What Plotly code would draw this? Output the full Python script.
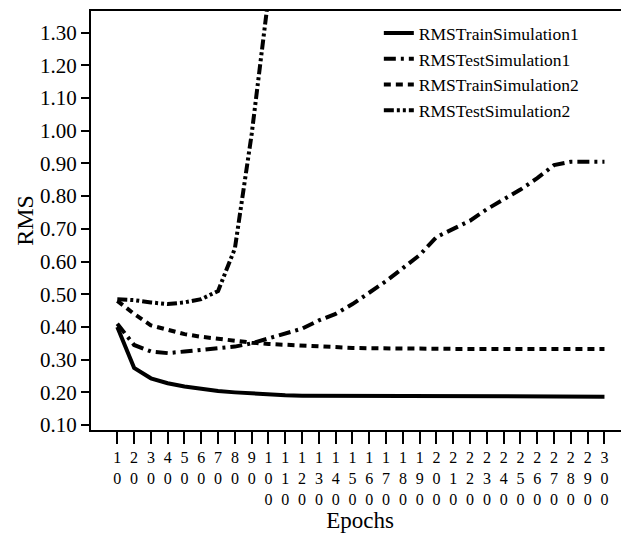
import plotly.graph_objects as go

epochs = list(range(10, 310, 10))
tick_text = ["<br>".join(str(e)) for e in epochs]

rms_train_sim1 = [0.400, 0.275, 0.243, 0.228, 0.218, 0.210, 0.204, 0.200, 0.196, 0.193,
                  0.191, 0.190, 0.190, 0.189, 0.188, 0.188, 0.188, 0.188, 0.188, 0.188,
                  0.188, 0.187, 0.187, 0.187, 0.187, 0.187, 0.187, 0.187, 0.187, 0.187]
rms_test_sim1 = [0.410, 0.345, 0.325, 0.320, 0.325, 0.330, 0.335, 0.340, 0.350, 0.365,
                 0.380, 0.395, 0.420, 0.440, 0.470, 0.505, 0.540, 0.580, 0.620, 0.675,
                 0.700, 0.725, 0.760, 0.790, 0.820, 0.855, 0.895, 0.905, 0.905, 0.905]
rms_train_sim2 = [0.480, 0.440, 0.405, 0.390, 0.378, 0.370, 0.363, 0.358, 0.352, 0.348,
                  0.345, 0.342, 0.340, 0.338, 0.336, 0.335, 0.334, 0.333, 0.333, 0.333,
                  0.333, 0.333, 0.333, 0.333, 0.333, 0.333, 0.333, 0.333, 0.333, 0.333]
test2_epochs = [10, 20, 30, 40, 50, 60, 70, 80, 90, 100]
rms_test_sim2 = [0.485, 0.482, 0.475, 0.470, 0.475, 0.485, 0.510, 0.640, 0.990, 1.410]

y_ticks = [round(0.1 * i, 2) for i in range(1, 14)]
y_tick_text = [f"{v:.2f}" for v in y_ticks]

font_family = "Liberation Serif"

fig = go.Figure()
fig.add_trace(go.Scatter(x=epochs, y=rms_train_sim1, mode="lines", name="RMSTrainSimulation1",
                         line=dict(color="black", width=4, dash="solid")))
fig.add_trace(go.Scatter(x=epochs, y=rms_test_sim1, mode="lines", name="RMSTestSimulation1",
                         line=dict(color="black", width=4, dash="12px,5px,3px,5px")))
fig.add_trace(go.Scatter(x=epochs, y=rms_train_sim2, mode="lines", name="RMSTrainSimulation2",
                         line=dict(color="black", width=4, dash="7px,5px")))
fig.add_trace(go.Scatter(x=test2_epochs, y=rms_test_sim2, mode="lines", name="RMSTestSimulation2",
                         line=dict(color="black", width=4, dash="10px,3px,3px,3px,3px,3px")))

fig.update_layout(
    width=621, height=525,
    margin=dict(l=83, r=0, t=3, b=103, autoexpand=False),
    paper_bgcolor="white", plot_bgcolor="white",
    font=dict(family=font_family, color="black"),
    showlegend=True,
    legend=dict(x=0.535, y=0.99, xanchor="left", yanchor="top",
                bgcolor="rgba(0,0,0,0)", font=dict(size=17.5, family=font_family),
                tracegroupgap=0),
)
fig.update_xaxes(
    range=[-5.65, 314.6], tickmode="array", tickvals=epochs, ticktext=tick_text,
    ticks="outside", ticklen=12, tickwidth=2, tickcolor="black",
    showline=True, linecolor="black", linewidth=2, mirror=True,
    showgrid=False, zeroline=False,
    tickfont=dict(size=16, family=font_family),
    title=dict(text="Epochs", font=dict(size=23, family=font_family), standoff=0),
)
fig.update_yaxes(
    range=[0.085, 1.366], tickmode="array", tickvals=y_ticks, ticktext=y_tick_text,
    ticks="outside", ticklen=8, tickwidth=2, tickcolor="black",
    showline=True, linecolor="black", linewidth=2,
    showgrid=False, zeroline=False,
    tickfont=dict(size=21, family=font_family),
    title=dict(text="RMS", font=dict(size=24, family=font_family), standoff=0),
)

fig.write_html("out.html")
